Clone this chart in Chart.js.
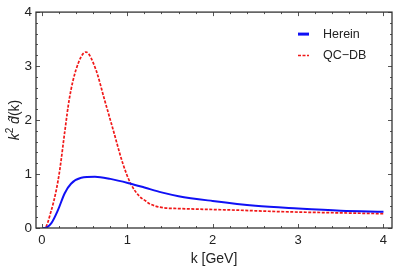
<!DOCTYPE html>
<html>
<head>
<meta charset="utf-8">
<script src="https://cdn.jsdelivr.net/npm/chart.js@4"></script>
<style>
  html, body { margin: 0; padding: 0; background: #fff; }
  #wrap { width: 395px; height: 269px; }
</style>
</head>
<body>
<div id="wrap"><canvas id="c" width="395" height="269"></canvas></div>
<script>
// ---- data ----
const hereinK   = [0, 0.03, 0.11, 0.187, 0.265, 0.34, 0.46, 0.62, 0.8, 1.04, 1.2, 1.4, 1.6, 2.0, 2.5, 3.0, 3.5, 4.0];
const hereinVal = [0, 0, 0.09, 0.33, 0.64, 0.82, 0.93, 0.95, 0.91, 0.82, 0.75, 0.66, 0.59, 0.50, 0.41, 0.36, 0.32, 0.30];
const qcdbK     = [0, 0.03, 0.11, 0.167, 0.207, 0.27, 0.32, 0.40, 0.515, 0.63, 0.73, 0.83, 0.95, 1.04, 1.14, 1.216, 1.26, 1.42, 1.6, 1.93, 2.3, 2.65, 3.0, 3.5, 4.0];
const qcdbVal   = [0, 0, 0.33, 0.70, 1.06, 1.82, 2.39, 2.94, 3.26, 2.94, 2.39, 1.84, 1.18, 0.82, 0.59, 0.50, 0.45, 0.375, 0.36, 0.345, 0.33, 0.31, 0.295, 0.28, 0.265];
const seriesNames = ["Herein", "QC\u2212DB"];
const xTickValues = [0, 1, 2, 3, 4];
const yTickValues = [0, 1, 2, 3, 4];
const xTitle = "k [GeV]";
// y title pieces: [text, style]
const yTitleParts = [["k", "italic"], ["2", "sup"], [" ", "normal"], ["d\u0302", "italic"], ["(k)", "normal"]];

const BLUE = "#1010f5";
const RED = "#f01818";
const FONT = "'Liberation Sans', Arial, sans-serif";

function pts(xs, ys) { return xs.map((x, i) => ({ x: x, y: ys[i] })); }

// Mathematica-like frame with inward ticks on all sides
const framePlugin = {
  id: 'frame',
  afterDatasetsDraw(chart) {
    const { ctx, chartArea: a, scales: { x, y } } = chart;
    ctx.save();
    ctx.strokeStyle = '#555';
    ctx.lineWidth = 1;
    const tick = (v, isMajor, axis) => {
      const len = isMajor ? 4 : 2;
      ctx.beginPath();
      if (axis === 'x') {
        const px = Math.round(x.getPixelForValue(v)) + 0.5;
        ctx.moveTo(px, a.bottom); ctx.lineTo(px, a.bottom - len);
        ctx.moveTo(px, a.top); ctx.lineTo(px, a.top + len);
      } else {
        const py = Math.round(y.getPixelForValue(v)) + 0.5;
        ctx.moveTo(a.left, py); ctx.lineTo(a.left + len, py);
        ctx.moveTo(a.right, py); ctx.lineTo(a.right - len, py);
      }
      ctx.stroke();
    };
    for (let i = 0; i <= 20; i++) tick(i * 0.2, i % 5 === 0, 'x');
    for (let i = 0; i <= 20; i++) tick(i * 0.2, i % 5 === 0, 'y');
    ctx.lineWidth = 1.3;
    ctx.strokeStyle = '#333';
    ctx.strokeRect(a.left, a.top, a.right - a.left, a.bottom - a.top);
    ctx.restore();
  }
};

// rotated y-axis title with mixed styles
const yTitlePlugin = {
  id: 'yTitle',
  afterDraw(chart) {
    const { ctx, chartArea: a } = chart;
    const size = 14;
    const fontOf = st => st === 'italic' ? `italic ${size}px ${FONT}` :
                         st === 'sup' ? `${Math.round(size * 0.72)}px ${FONT}` : `${size}px ${FONT}`;
    ctx.save();
    let total = 0;
    yTitleParts.forEach(([t, st]) => { ctx.font = fontOf(st); total += ctx.measureText(t).width; });
    ctx.translate(15, (a.top + a.bottom) / 2);
    ctx.rotate(-Math.PI / 2);
    ctx.fillStyle = '#222';
    ctx.textBaseline = 'middle';
    let cx = -total / 2;
    yTitleParts.forEach(([t, st]) => {
      ctx.font = fontOf(st);
      ctx.fillText(t, cx, st === 'sup' ? -5 : 0);
      cx += ctx.measureText(t).width;
    });
    ctx.restore();
  }
};

// legend inside plot, top-right
const legendPlugin = {
  id: 'insideLegend',
  afterDraw(chart) {
    const { ctx, chartArea: a } = chart;
    const x0 = a.right - 94, y0 = a.top + 22, gap = 21.5;
    ctx.save();
    chart.data.datasets.forEach((ds, i) => {
      const yy = y0 + i * gap;
      ctx.beginPath();
      ctx.strokeStyle = ds.borderColor;
      ctx.lineWidth = i === 0 ? 3 : 1.5;
      ctx.setLineDash(ds.borderDash || []);
      ctx.moveTo(x0, yy); ctx.lineTo(x0 + 11, yy);
      ctx.stroke();
      ctx.setLineDash([]);
      ctx.fillStyle = '#222';
      ctx.font = '12.5px ' + FONT;
      ctx.textBaseline = 'middle';
      ctx.fillText(ds.label, x0 + 25, yy);
    });
    ctx.restore();
  }
};

new Chart(document.getElementById('c'), {
  type: 'line',
  data: {
    datasets: [
      { label: seriesNames[0], data: pts(hereinK, hereinVal), borderColor: BLUE, borderWidth: 2,
        pointRadius: 0, cubicInterpolationMode: 'monotone', fill: false },
      { label: seriesNames[1], data: pts(qcdbK, qcdbVal), borderColor: RED, borderWidth: 1.7,
        borderDash: [3, 1.5], pointRadius: 0, cubicInterpolationMode: 'monotone', fill: false }
    ]
  },
  options: {
    responsive: false,
    animation: false,
    events: [],
    layout: { padding: { top: 8, right: 3, left: 0, bottom: 0 } },
    plugins: { legend: { display: false }, tooltip: { enabled: false } },
    scales: {
      x: {
        type: 'linear', min: -0.07, max: 4.1,
        afterBuildTicks: s => { s.ticks = xTickValues.map(v => ({ value: v })); },
        afterFit: s => { s.height = 41; },
        grid: { display: false, drawTicks: false },
        border: { display: false },
        ticks: { color: '#222', font: { family: FONT, size: 13 }, padding: 5, maxRotation: 0 },
        title: { display: true, text: xTitle, color: '#222', font: { family: FONT, size: 14 }, padding: { top: 0, bottom: 1 } }
      },
      y: {
        type: 'linear', min: 0, max: 4,
        afterBuildTicks: s => { s.ticks = yTickValues.map(v => ({ value: v })); },
        afterFit: s => { s.width = 36; },
        grid: { display: false, drawTicks: false },
        border: { display: false },
        ticks: { color: '#222', font: { family: FONT, size: 13.5 }, padding: 4 },
        title: { display: false }
      }
    }
  },
  plugins: [framePlugin, yTitlePlugin, legendPlugin]
});
</script>
</body>
</html>
